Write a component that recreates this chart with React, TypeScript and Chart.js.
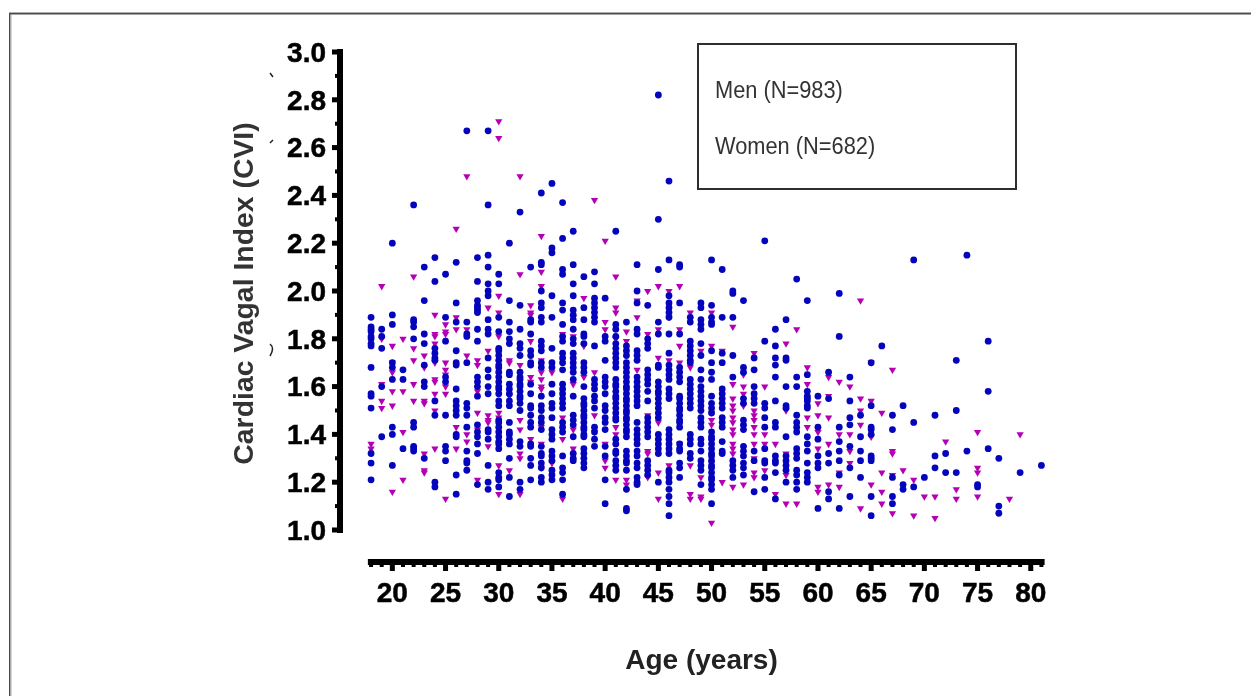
import React, { useEffect, useRef } from "react";
import { Chart, registerables } from "chart.js";

Chart.register(...registerables);

const xTicks = [20, 25, 30, 35, 40, 45, 50, 55, 60, 65, 70, 75, 80];
const yTicks = [1.0, 1.2, 1.4, 1.6, 1.8, 2.0, 2.2, 2.4, 2.6, 2.8, 3.0];
const legendLabels = ["Men (N=983)", "Women (N=682)"];

const men18 = [1.89, 1.85, 1.84, 1.83, 1.81, 1.8, 1.78, 1.77, 1.68, 1.57, 1.56, 1.51, 1.32, 1.28, 1.21];
const men19 = [1.84, 1.81, 1.76, 1.6, 1.39];
const men20 = [2.2, 1.9, 1.86, 1.7, 1.68, 1.63, 1.43, 1.4, 1.27];
const men21 = [1.67, 1.63, 1.34];
const men22 = [2.36, 1.88, 1.87, 1.85, 1.8, 1.45, 1.43, 1.35, 1.34, 1.33];
const men23 = [2.1, 1.96, 1.82, 1.78, 1.69, 1.62, 1.6, 1.3];
const men24 = [2.14, 2.04, 1.76, 1.74, 1.72, 1.71, 1.54, 1.48, 1.2, 1.18];
const men25 = [2.07, 1.89, 1.79, 1.64, 1.62, 1.48, 1.35, 1.33, 1.29];
const men26 = [2.12, 1.95, 1.87, 1.75, 1.7, 1.69, 1.59, 1.54, 1.52, 1.5, 1.48, 1.4, 1.39, 1.23, 1.15];
const men27 = [2.67, 1.87, 1.82, 1.81, 1.7, 1.53, 1.51, 1.48, 1.43, 1.33, 1.29, 1.28, 1.25];
const men28 = [2.14, 2.04, 1.96, 1.94, 1.93, 1.92, 1.91, 1.84, 1.79, 1.64, 1.62, 1.6, 1.56, 1.44, 1.41, 1.39, 1.36, 1.32, 1.19];
const men29 = [2.67, 2.36, 2.15, 2.1, 2.03, 2.0, 1.98, 1.88, 1.84, 1.82, 1.72, 1.67, 1.64, 1.6, 1.57, 1.42, 1.41, 1.38, 1.27, 1.2, 1.17];
const men30 = [2.07, 2.03, 1.89, 1.83, 1.76, 1.75, 1.73, 1.71, 1.69, 1.68, 1.66, 1.64, 1.62, 1.6, 1.59, 1.57, 1.54, 1.52, 1.46, 1.45, 1.43, 1.41, 1.39, 1.37, 1.36, 1.34, 1.24, 1.22, 1.21, 1.18];
const men31 = [2.2, 1.96, 1.87, 1.83, 1.8, 1.78, 1.66, 1.65, 1.61, 1.59, 1.57, 1.54, 1.52, 1.45, 1.41, 1.4, 1.38, 1.36, 1.3, 1.22, 1.14];
const men32 = [2.33, 1.94, 1.84, 1.78, 1.76, 1.73, 1.66, 1.64, 1.63, 1.61, 1.6, 1.58, 1.56, 1.55, 1.53, 1.5, 1.37, 1.35, 1.2, 1.17];
const men33 = [2.1, 1.88, 1.87, 1.82, 1.75, 1.73, 1.7, 1.69, 1.61, 1.57, 1.52, 1.51, 1.48, 1.45, 1.43, 1.36, 1.35, 1.3, 1.27, 1.21];
const men34 = [2.41, 2.12, 2.11, 2.0, 1.95, 1.93, 1.89, 1.87, 1.79, 1.77, 1.75, 1.7, 1.68, 1.56, 1.52, 1.5, 1.47, 1.45, 1.42, 1.35, 1.32, 1.31, 1.28, 1.26, 1.22, 1.2];
const men35 = [2.45, 2.18, 2.16, 1.98, 1.89, 1.76, 1.7, 1.68, 1.61, 1.57, 1.53, 1.51, 1.47, 1.42, 1.4, 1.38, 1.33, 1.31, 1.29, 1.25, 1.23, 1.21];
const men36 = [2.37, 2.22, 2.09, 2.07, 1.95, 1.92, 1.86, 1.81, 1.79, 1.74, 1.72, 1.7, 1.67, 1.61, 1.59, 1.57, 1.55, 1.53, 1.51, 1.45, 1.43, 1.41, 1.31, 1.26, 1.24, 1.21, 1.15];
const men37 = [2.25, 2.11, 2.03, 1.98, 1.92, 1.9, 1.88, 1.84, 1.8, 1.78, 1.74, 1.72, 1.7, 1.68, 1.66, 1.63, 1.56, 1.48, 1.46, 1.44, 1.39, 1.32, 1.3, 1.29];
const men38 = [2.06, 1.93, 1.88, 1.82, 1.81, 1.78, 1.7, 1.68, 1.66, 1.6, 1.55, 1.53, 1.52, 1.5, 1.48, 1.47, 1.45, 1.43, 1.42, 1.4, 1.39, 1.34, 1.32, 1.3, 1.28, 1.26];
const men39 = [2.08, 2.03, 1.97, 1.95, 1.93, 1.91, 1.89, 1.87, 1.77, 1.63, 1.61, 1.59, 1.56, 1.54, 1.51, 1.43, 1.41, 1.38, 1.35];
const men40 = [1.97, 1.81, 1.79, 1.71, 1.64, 1.62, 1.6, 1.57, 1.52, 1.5, 1.47, 1.45, 1.42, 1.35, 1.31, 1.21, 1.11];
const men41 = [2.25, 1.86, 1.84, 1.81, 1.78, 1.76, 1.74, 1.72, 1.7, 1.68, 1.63, 1.61, 1.6, 1.58, 1.56, 1.55, 1.53, 1.51, 1.49, 1.47, 1.46, 1.38, 1.36, 1.33, 1.32, 1.29, 1.27, 1.25];
const men42 = [1.87, 1.77, 1.75, 1.73, 1.7, 1.68, 1.66, 1.64, 1.62, 1.6, 1.59, 1.57, 1.55, 1.54, 1.52, 1.5, 1.49, 1.47, 1.46, 1.44, 1.42, 1.41, 1.39, 1.33, 1.31, 1.29, 1.28, 1.25, 1.17, 1.09, 1.08];
const men43 = [2.11, 2.0, 1.95, 1.84, 1.82, 1.75, 1.73, 1.71, 1.64, 1.62, 1.6, 1.58, 1.56, 1.54, 1.52, 1.45, 1.42, 1.4, 1.38, 1.36, 1.33, 1.31, 1.28, 1.26, 1.22, 1.2, 1.19];
const men44 = [1.94, 1.8, 1.78, 1.76, 1.67, 1.65, 1.63, 1.61, 1.58, 1.54, 1.47, 1.45, 1.43, 1.41, 1.39, 1.29, 1.27, 1.25, 1.23];
const men45 = [2.82, 2.3, 2.09, 1.87, 1.82, 1.69, 1.68, 1.62, 1.6, 1.58, 1.57, 1.55, 1.53, 1.51, 1.49, 1.47, 1.4, 1.38, 1.36, 1.34, 1.32, 1.2];
const men46 = [2.46, 2.13, 1.98, 1.95, 1.93, 1.91, 1.89, 1.82, 1.74, 1.69, 1.67, 1.65, 1.63, 1.59, 1.57, 1.55, 1.42, 1.4, 1.38, 1.36, 1.34, 1.32, 1.25, 1.24, 1.22, 1.2, 1.17, 1.14, 1.11, 1.06];
const men47 = [2.11, 2.1, 1.95, 1.82, 1.68, 1.66, 1.64, 1.62, 1.56, 1.55, 1.53, 1.51, 1.5, 1.48, 1.46, 1.45, 1.43, 1.36, 1.34, 1.33, 1.28, 1.26, 1.22];
const men48 = [1.89, 1.87, 1.79, 1.77, 1.75, 1.73, 1.71, 1.7, 1.63, 1.61, 1.59, 1.57, 1.55, 1.53, 1.51, 1.4, 1.38, 1.36, 1.32, 1.3];
const men49 = [1.95, 1.93, 1.88, 1.86, 1.84, 1.78, 1.73, 1.67, 1.63, 1.6, 1.58, 1.56, 1.54, 1.52, 1.5, 1.47, 1.45, 1.43, 1.38, 1.36, 1.33, 1.29, 1.27, 1.25, 1.19];
const men50 = [2.13, 1.94, 1.89, 1.87, 1.86, 1.75, 1.7, 1.66, 1.63, 1.56, 1.53, 1.51, 1.49, 1.41, 1.39, 1.38, 1.36, 1.34, 1.32, 1.31, 1.29, 1.27, 1.26, 1.24, 1.22, 1.21, 1.19, 1.17, 1.11];
const men51 = [2.09, 1.89, 1.74, 1.7, 1.59, 1.57, 1.55, 1.53, 1.51, 1.47, 1.45, 1.43, 1.37, 1.33, 1.32];
const men52 = [2.0, 1.99, 1.89, 1.73, 1.64, 1.29, 1.27, 1.25, 1.22];
const men53 = [1.96, 1.68, 1.66, 1.55, 1.53, 1.46, 1.44, 1.42, 1.35, 1.33, 1.31, 1.28, 1.26, 1.23];
const men54 = [1.72, 1.67, 1.6, 1.57, 1.55, 1.53, 1.33, 1.29, 1.16];
const men55 = [2.21, 1.79, 1.53, 1.51, 1.47, 1.43, 1.34, 1.29, 1.28, 1.22, 1.17];
const men56 = [1.84, 1.77, 1.72, 1.69, 1.64, 1.54, 1.45, 1.43, 1.31, 1.29, 1.28, 1.24, 1.13];
const men57 = [1.88, 1.72, 1.71, 1.6, 1.52, 1.51, 1.39, 1.31, 1.29, 1.27, 1.25, 1.2];
const men58 = [2.05, 1.64, 1.6, 1.48, 1.45, 1.43, 1.41, 1.34, 1.32, 1.3, 1.25, 1.23, 1.2, 1.17];
const men59 = [1.96, 1.65, 1.58, 1.56, 1.55, 1.54, 1.52, 1.51, 1.39, 1.36, 1.33, 1.28, 1.24, 1.22, 1.2];
const men60 = [1.56, 1.43, 1.38, 1.31, 1.28, 1.26, 1.09];
const men61 = [1.66, 1.55, 1.32, 1.28, 1.16, 1.13];
const men62 = [1.99, 1.81, 1.43, 1.37, 1.33, 1.29, 1.23, 1.09];
const men63 = [1.64, 1.54, 1.47, 1.44, 1.35, 1.26, 1.14];
const men64 = [1.48, 1.39, 1.33, 1.29, 1.22];
const men65 = [1.7, 1.52, 1.43, 1.42, 1.4, 1.31, 1.3, 1.29, 1.14, 1.06];
const men66 = [1.77];
const men67 = [1.48, 1.42, 1.22, 1.14, 1.11];
const men68 = [1.52, 1.19, 1.17];
const men69 = [2.13, 1.45, 1.18];
const men70 = [1.22];
const men71 = [1.48, 1.31, 1.26];
const men72 = [1.32, 1.24];
const men73 = [1.71, 1.5, 1.24];
const men74 = [2.15, 1.33];
const men75 = [1.19, 1.18];
const men76 = [1.79, 1.58, 1.34];
const men77 = [1.3, 1.1, 1.07];
const men79 = [1.24];
const men81 = [1.27];

const women18 = [1.36, 1.34];
const women19 = [2.02, 1.8, 1.61, 1.54, 1.51];
const women20 = [1.77, 1.7, 1.66, 1.58, 1.52, 1.16];
const women21 = [1.8, 1.58, 1.41, 1.21];
const women22 = [2.06, 1.76, 1.71, 1.61, 1.54];
const women23 = [1.73, 1.68, 1.54, 1.53, 1.32, 1.25, 1.24];
const women24 = [1.9, 1.82, 1.81, 1.78, 1.7, 1.63, 1.62, 1.57, 1.5, 1.34];
const women25 = [1.86, 1.83, 1.82, 1.7, 1.67, 1.65, 1.6, 1.57, 1.13];
const women26 = [2.26, 1.89, 1.84, 1.43, 1.34];
const women27 = [2.48, 1.84, 1.73, 1.4, 1.37];
const women28 = [1.71, 1.69, 1.58, 1.49, 1.42, 1.21];
const women29 = [1.93, 1.75, 1.48, 1.46, 1.45, 1.35];
const women30 = [2.71, 2.64, 1.98, 1.91, 1.81, 1.49, 1.47, 1.27, 1.21, 1.15];
const women31 = [1.71, 1.7, 1.56, 1.25];
const women32 = [2.48, 2.07, 1.69, 1.46, 1.42, 1.32, 1.3, 1.15];
const women33 = [1.94, 1.91, 1.9, 1.79, 1.64, 1.62, 1.38];
const women34 = [2.23, 2.08, 2.02, 1.71, 1.66, 1.63, 1.6, 1.59, 1.43, 1.36, 1.26];
const women35 = [1.66, 1.28];
const women36 = [1.82, 1.47, 1.38, 1.13];
const women37 = [1.89, 1.81, 1.61, 1.42, 1.34];
const women38 = [1.97, 1.77, 1.64];
const women39 = [2.38, 1.66, 1.48, 1.41];
const women40 = [2.21, 1.87, 1.84, 1.36, 1.29, 1.26];
const women41 = [2.06, 1.93, 1.91, 1.8, 1.43, 1.4, 1.21];
const women42 = [1.83, 1.79, 1.21, 1.19];
const women43 = [1.96, 1.89, 1.67, 1.59];
const women44 = [2.0, 1.82, 1.48, 1.33, 1.32, 1.22];
const women45 = [2.02, 1.84, 1.72, 1.45, 1.24, 1.13];
const women46 = [2.0, 1.89, 1.71, 1.27];
const women47 = [2.02, 1.84, 1.77, 1.7, 1.36];
const women48 = [1.91, 1.68, 1.27, 1.15, 1.13];
const women49 = [1.75, 1.22, 1.14, 1.13];
const women50 = [1.91, 1.77, 1.49, 1.46, 1.44, 1.28, 1.03];
const women51 = [1.75, 1.2];
const women52 = [1.85, 1.61, 1.55, 1.52, 1.5, 1.47, 1.45, 1.42, 1.4, 1.36, 1.34, 1.32, 1.18];
const women53 = [1.65, 1.6, 1.57, 1.52, 1.43, 1.19];
const women54 = [1.74, 1.5, 1.48, 1.46, 1.43, 1.4, 1.36, 1.3, 1.24, 1.22];
const women55 = [1.6, 1.52, 1.4, 1.36, 1.25];
const women56 = [1.36, 1.15];
const women57 = [1.78, 1.5, 1.32, 1.23, 1.11];
const women58 = [1.84, 1.11];
const women59 = [1.68, 1.61, 1.47, 1.43];
const women60 = [1.53, 1.48, 1.41, 1.34, 1.18, 1.16];
const women61 = [1.64, 1.56, 1.47, 1.36, 1.19];
const women62 = [1.62, 1.4, 1.24, 1.18];
const women63 = [1.6, 1.4, 1.33, 1.28];
const women64 = [1.96, 1.55, 1.5, 1.44, 1.09];
const women65 = [1.7, 1.54, 1.39, 1.19];
const women66 = [1.49, 1.24, 1.16, 1.11];
const women67 = [1.67, 1.33, 1.32, 1.23, 1.07];
const women68 = [1.25];
const women69 = [1.21, 1.06];
const women70 = [1.14];
const women71 = [1.14, 1.05];
const women72 = [1.37];
const women73 = [1.17, 1.13];
const women75 = [1.41, 1.26, 1.24, 1.14];
const women78 = [1.13];
const women79 = [1.4];

const menColumns: [number, number[]][] = [
  [18, men18], [19, men19], [20, men20], [21, men21], [22, men22], [23, men23], [24, men24], [25, men25],
  [26, men26], [27, men27], [28, men28], [29, men29], [30, men30], [31, men31], [32, men32], [33, men33],
  [34, men34], [35, men35], [36, men36], [37, men37], [38, men38], [39, men39], [40, men40], [41, men41],
  [42, men42], [43, men43], [44, men44], [45, men45], [46, men46], [47, men47], [48, men48], [49, men49],
  [50, men50], [51, men51], [52, men52], [53, men53], [54, men54], [55, men55], [56, men56], [57, men57],
  [58, men58], [59, men59], [60, men60], [61, men61], [62, men62], [63, men63], [64, men64], [65, men65],
  [66, men66], [67, men67], [68, men68], [69, men69], [70, men70], [71, men71], [72, men72], [73, men73],
  [74, men74], [75, men75], [76, men76], [77, men77], [79, men79], [81, men81],
];
const womenColumns: [number, number[]][] = [
  [18, women18], [19, women19], [20, women20], [21, women21], [22, women22], [23, women23], [24, women24],
  [25, women25], [26, women26], [27, women27], [28, women28], [29, women29], [30, women30], [31, women31],
  [32, women32], [33, women33], [34, women34], [35, women35], [36, women36], [37, women37], [38, women38],
  [39, women39], [40, women40], [41, women41], [42, women42], [43, women43], [44, women44], [45, women45],
  [46, women46], [47, women47], [48, women48], [49, women49], [50, women50], [51, women51], [52, women52],
  [53, women53], [54, women54], [55, women55], [56, women56], [57, women57], [58, women58], [59, women59],
  [60, women60], [61, women61], [62, women62], [63, women63], [64, women64], [65, women65], [66, women66],
  [67, women67], [68, women68], [69, women69], [70, women70], [71, women71], [72, women72], [73, women73],
  [75, women75], [78, women78], [79, women79],
];

const toPoints = (cols: [number, number[]][]) =>
  cols.flatMap(([age, values]) => values.map((v) => ({ x: age, y: v })));

const FONT = '"Liberation Sans", Arial, sans-serif';

const axesPlugin = {
  id: "prismAxes",
  beforeDatasetsDraw(chart: any) {
    const { ctx, scales } = chart;
    const xs = scales.x;
    const ys = scales.y;
    ctx.save();
    // page frame
    ctx.fillStyle = "#4a4a4a";
    ctx.fillRect(9, 13, 1242, 1.5);
    ctx.fillRect(9, 13, 1.5, 683);
    ctx.fillStyle = "#b0b0b0";
    ctx.fillRect(9, 12, 1242, 1);
    ctx.fillRect(10.5, 14.5, 1, 681.5);

    ctx.fillStyle = "#000";
    // y axis
    const yTop = ys.getPixelForValue(3.0);
    const yBot = ys.getPixelForValue(1.0);
    ctx.fillRect(337, yTop - 3, 6, yBot - yTop + 6);
    for (let i = 0; i <= 20; i++) {
      const py = ys.getPixelForValue(1 + i * 0.1);
      if (i % 2 === 0) ctx.fillRect(332, py - 2.5, 5, 5);
      else ctx.fillRect(335, py - 2, 2, 4);
    }
    // x axis (offset below the y axis)
    const x0 = xs.getPixelForValue(17.7);
    const x1 = xs.getPixelForValue(81.3);
    ctx.fillRect(x0, 559, x1 - x0, 6);
    for (let a = 18; a <= 81; a++) {
      const px = xs.getPixelForValue(a);
      if (a % 5 === 0) ctx.fillRect(px - 2.5, 565, 5, 6);
      else ctx.fillRect(px - 2, 565, 4, 2);
    }
    // scan residue left of the axis title
    ctx.strokeStyle = "#222";
    ctx.lineWidth = 1.5;
    ctx.beginPath();
    ctx.moveTo(270, 73); ctx.lineTo(273, 77);
    ctx.moveTo(270, 143); ctx.lineTo(273, 140);
    ctx.moveTo(270, 344); ctx.quadraticCurveTo(275, 348, 270, 356);
    ctx.stroke();
    ctx.restore();
  },
};

export default function App() {
  const ref = useRef<HTMLCanvasElement | null>(null);
  useEffect(() => {
    const chart = new Chart(ref.current as HTMLCanvasElement, {
      type: "scatter",
      data: {
        datasets: [
          {
            label: "Men (N=983)",
            data: toPoints(menColumns),
            pointStyle: "circle",
            pointRadius: 3.4,
            pointHoverRadius: 3.4,
            pointBackgroundColor: "#0404bd",
            pointBorderWidth: 0,
          },
          {
            label: "Women (N=682)",
            data: toPoints(womenColumns),
            pointStyle: "triangle",
            rotation: 180,
            pointRadius: 4.2,
            pointHoverRadius: 4.2,
            pointBackgroundColor: "#b400b4",
            pointBorderWidth: 0,
          },
        ],
      },
      plugins: [axesPlugin],
      options: {
        animation: false,
        responsive: false,
        clip: false,
        layout: { padding: { left: 228, top: 52, right: 188, bottom: 0 } },
        plugins: { legend: { display: false }, tooltip: { enabled: false } },
        scales: {
          x: {
            type: "linear",
            min: 15.08,
            max: 83.03,
            grid: { display: false, drawTicks: false },
            border: { display: false },
            afterBuildTicks: (s: any) => { s.ticks = xTicks.map((v) => ({ value: v })); },
            afterFit: (s: any) => { s.height = 161; },
            ticks: {
              autoSkip: false,
              maxRotation: 0,
              padding: 42,
              color: "#000",
              textStrokeColor: "#000",
              textStrokeWidth: 0.5,
              font: { family: FONT, size: 28, weight: "bold" },
              callback: (v: any) => String(v),
            },
            title: {
              display: true,
              text: "Age (years)",
              color: "#222",
              font: { family: FONT, size: 28, weight: "bold" },
              padding: { top: 24, bottom: 18 },
            },
          },
          y: {
            type: "linear",
            min: 0.979,
            max: 3,
            grid: { display: false, drawTicks: false },
            border: { display: false },
            afterBuildTicks: (s: any) => { s.ticks = yTicks.map((v) => ({ value: v })); },
            afterFit: (s: any) => { s.width = 112; },
            ticks: {
              autoSkip: false,
              padding: 14,
              labelOffset: 2,
              color: "#000",
              textStrokeColor: "#000",
              textStrokeWidth: 0.5,
              font: { family: FONT, size: 28, weight: "bold" },
              callback: (v: any) => Number(v).toFixed(1),
            },
            title: {
              display: true,
              text: "Cardiac Vagal Index (CVI)",
              color: "#333",
              font: { family: FONT, size: 28.4, weight: "bold" },
              padding: { top: 0, bottom: 0 },
            },
          },
        },
      },
    } as any);
    return () => chart.destroy();
  }, []);

  const labelStyle = { position: "absolute", left: 15.5, whiteSpace: "nowrap", transform: "scaleX(0.948)", transformOrigin: "left center" } as const;

  return (
    <div style={{ position: "fixed", left: 0, top: 0, width: 1251, height: 696, background: "#fff", overflow: "hidden" }}>
      <canvas ref={ref} width={1251} height={696} style={{ display: "block", width: 1251, height: 696 }} />
      <div
        style={{
          position: "absolute",
          left: 697,
          top: 43,
          width: 320,
          height: 147,
          boxSizing: "border-box",
          border: "2.5px solid #2e2e2e",
          fontFamily: FONT,
          fontSize: 23,
          color: "#333",
        }}
      >
        <div style={{ ...labelStyle, top: 32 }}>{legendLabels[0]}</div>
        <div style={{ ...labelStyle, top: 88 }}>{legendLabels[1]}</div>
      </div>
    </div>
  );
}
